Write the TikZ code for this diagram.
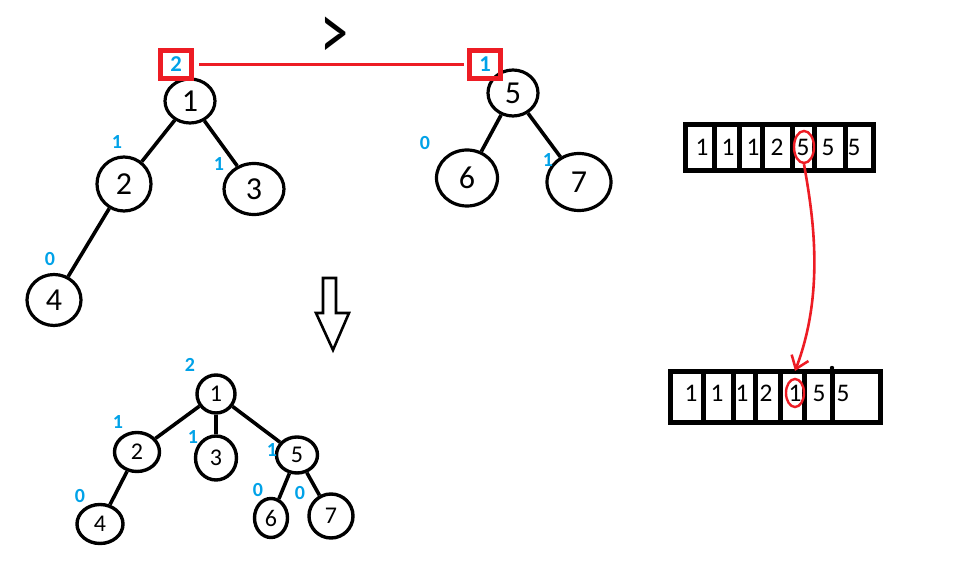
\documentclass[tikz,border=0pt]{standalone}
\usepackage{fontspec}
\setmainfont{Carlito}
\usetikzlibrary{shapes.geometric,arrows.meta}
\newdimen\pxu \pxu=0.75pt
\definecolor{penred}{RGB}{237,28,36}
\definecolor{penblue}{RGB}{0,162,232}
\tikzset{
  tnode/.style={ellipse,draw=black,line width=3.2\pxu,inner sep=0pt,font=\fontsize{24}{24}\selectfont},
  bnode/.style={ellipse,draw=black,line width=3.4\pxu,inner sep=0pt,font=\fontsize{18}{18}\selectfont},
  edge/.style={draw=black,line width=3.6\pxu},
  bal/.style={text=penblue,font=\fontsize{15}{15}\selectfont\bfseries,inner sep=0pt},
  redbox/.style={draw=penred,line width=5\pxu,minimum width=31\pxu,minimum height=28\pxu,inner sep=0pt},
  cell/.style={draw=black,line width=5\pxu,inner sep=0pt},
  val/.style={font=\fontsize{19}{19}\selectfont,inner sep=0pt},
  redring/.style={ellipse,draw=penred,line width=2.4\pxu,inner sep=0pt,fill=none},
}
\begin{document}
\begin{tikzpicture}[x=0.75pt,y=-0.75pt]
\useasboundingbox (0,0) rectangle (965,573);
\fill[white] (0,0) rectangle (965,573);

% ---- top left tree
\node[tnode,minimum width=50\pxu,minimum height=44\pxu] (t1) at (190,101) {1};
\node[tnode,minimum width=54\pxu,minimum height=54\pxu] (t2) at (124,184) {2};
\node[tnode,minimum width=60\pxu,minimum height=51\pxu] (t3) at (254,189) {3};
\node[tnode,minimum width=54\pxu,minimum height=51\pxu] (t4) at (54,300) {4};
\path[edge] (t1) -- (t2);
\path[edge] (t1) -- (t3);
\path[edge] (t2) -- (t4);

% ---- top right tree
\node[tnode,minimum width=50\pxu,minimum height=46\pxu] (t5) at (513,93) {5};
\node[tnode,minimum width=61\pxu,minimum height=56\pxu] (t6) at (467,178) {6};
\node[tnode,minimum width=64\pxu,minimum height=57\pxu] (t7) at (579,182) {7};
\path[edge] (t5) -- (t6);
\path[edge] (t5) -- (t7);

% ---- blue balance labels (top)
\node[bal] (lt2) at (117,142) {1};
\node[bal] (lt3) at (219,164) {1};
\node[bal] (lt4) at (50,259) {0};
\node[bal] (lt6) at (425,143) {0};
\node[bal] (lt7) at (548,160) {1};

% ---- red boxes with heights
\node[redbox,text=penblue,font=\fontsize{17}{17}\selectfont\bfseries] (h1) at (176,64.5) {2};
\node[redbox,text=penblue,font=\fontsize{17}{17}\selectfont\bfseries] (h5) at (485,64.5) {1};
\draw[penred,line width=3.8\pxu,shorten <=5\pxu,shorten >=3\pxu] (h1) -- (h5);
\node[inner sep=2pt] (gt) at (334,38) {\scalebox{1.0}[1.45]{\fontsize{42}{42}\selectfont >}};

% ---- hollow down arrow
\draw[black,line width=2.6\pxu,line join=miter]
  (323,278) -- (336,278) -- (336,313) -- (349,313) -- (333,350) -- (316,313) -- (323,313) -- cycle;

% ---- bottom tree
\node[bnode,minimum width=38\pxu,minimum height=38\pxu] (b1) at (216,394) {1};
\node[bnode,minimum width=45\pxu,minimum height=39\pxu] (b2) at (137,452) {2};
\node[bnode,minimum width=41\pxu,minimum height=44\pxu] (b3) at (216,458) {3};
\node[bnode,minimum width=41\pxu,minimum height=36\pxu] (b5) at (297,455) {5};
\node[bnode,minimum width=46\pxu,minimum height=39\pxu] (b4) at (100,524) {4};
\node[bnode,minimum width=33\pxu,minimum height=39\pxu] (b6) at (271,518) {6};
\node[bnode,minimum width=44\pxu,minimum height=44\pxu] (b7) at (331,516) {7};
\path[edge] (b1) -- (b2);
\path[edge] (b1) -- (b3);
\path[edge] (b1) -- (b5);
\path[edge] (b2) -- (b4);
\path[edge] (b5) -- (b6);
\path[edge] (b5) -- (b7);

% ---- blue labels (bottom)
\node[bal] (lb1) at (190,365) {2};
\node[bal] (lb2) at (118,422) {1};
\node[bal] (lb3) at (193,437) {1};
\node[bal] (lb5) at (272,450) {1};
\node[bal] (lb4) at (80,496) {0};
\node[bal] (lb6) at (258,490) {0};
\node[bal] (lb7) at (300,493) {0};

% ---- top array
\foreach \a/\b/\v/\tx [count=\i] in {685.5/714.5/1/702, 714.5/739.5/1/728, 739.5/762.5/1/753, 762.5/792.5/2/777, 792.5/814.5/5/803, 814.5/845.5/5/828, 845.5/873.5/5/854}{
  \node[cell,minimum width={(\b-\a)*\pxu},minimum height=46\pxu] (ta\i) at ({(\a+\b)/2},147.5) {};
  \node[val] (tv\i) at (\tx,147) {\v};
}
% ---- bottom array
\foreach \a/\b/\v/\tx [count=\i] in {670.5/703/1/691, 703/733.5/1/717, 733.5/755.5/1/742, 755.5/780.5/2/766, 780.5/804.5/1/795, 804.5/832.5/5/819, 832.5/880/5/843}{
  \node[cell,minimum width={(\b-\a)*\pxu},minimum height=51\pxu] (ba\i) at ({(\a+\b)/2},397) {};
  \node[val] (bv\i) at (\tx,393) {\v};
}
\fill[black] (832,368) circle (2.2);

% ---- red rings and connector
\node[redring,minimum width=20\pxu,minimum height=32\pxu] (r1) at (804,147) {};
\node[redring,minimum width=18\pxu,minimum height=28\pxu] (r2) at (795,393) {};
\coordinate (rend) at (795,371);
\draw[penred,line width=2.6\pxu,-{Straight Barb[length=9pt,width=13.5pt,line width=1.9pt]}]
  (r1.south) .. controls (812,210) and (826,290) .. (rend);
\end{tikzpicture}
\end{document}
